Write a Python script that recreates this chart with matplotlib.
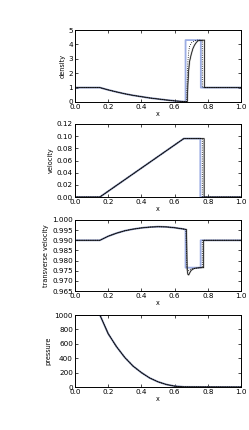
import matplotlib
matplotlib.use('Agg')
import matplotlib.pyplot as plt
import numpy as np

# rarefaction fan, shared by all runs
x_raref = [0.0, 0.15, 0.2, 0.25, 0.3, 0.35, 0.4, 0.45, 0.5, 0.55, 0.6, 0.65]
rho_raref = [1.0, 1.0, 0.84, 0.70, 0.57, 0.46, 0.37, 0.28, 0.21, 0.14, 0.08, 0.03]
vx_raref = [0.0, 0.0, 0.0095, 0.019, 0.0285, 0.038, 0.0475, 0.057, 0.0665, 0.076, 0.0855, 0.095]
vt_raref = [0.990, 0.990, 0.9920, 0.9935, 0.9947, 0.9955, 0.9961, 0.9965, 0.9967, 0.9966, 0.9962, 0.9956]
p_raref = [1000, 1000, 740, 560, 410, 290, 200, 125, 72, 35, 12, 3]

# exact solution
x_rho_exact = [0.655, 0.666, 0.666, 0.758, 0.758, 1.0]
rho_exact = [0.02, 0.02, 4.3, 4.3, 1.0, 1.0]
x_vx_exact = [0.655, 0.755, 0.755, 1.0]
vx_exact = [0.096, 0.096, 0.0, 0.0]
x_vt_exact = [0.666, 0.666, 0.757, 0.757, 1.0]
vt_exact = [0.9953, 0.9765, 0.9765, 0.990, 0.990]

# coarse run (solid black, grey underneath)
x_rho_run1 = [0.655, 0.677, 0.68, 0.685, 0.69, 0.70, 0.71, 0.72, 0.73, 0.74, 0.78, 0.78, 1.0]
rho_run1 = [0.02, 0.03, 1.2, 2.2, 2.8, 3.3, 3.7, 3.95, 4.12, 4.25, 4.3, 1.0, 1.0]
x_vx_run1 = [0.655, 0.778, 0.778, 1.0]
vx_run1 = [0.096, 0.096, 0.0, 0.0]
x_vt_run1 = [0.672, 0.676, 0.68, 0.685, 0.69, 0.70, 0.72, 0.75, 0.775, 0.775, 1.0]
vt_run1 = [0.9953, 0.9752, 0.9732, 0.9729, 0.9738, 0.9752, 0.9762, 0.9765, 0.9765, 0.990, 0.990]

# finer run (dotted)
x_rho_run2 = [0.655, 0.672, 0.676, 0.68, 0.685, 0.69, 0.70, 0.72, 0.74, 0.767, 0.767, 1.0]
rho_run2 = [0.02, 0.02, 1.5, 2.8, 3.5, 3.85, 4.1, 4.25, 4.3, 4.3, 1.0, 1.0]
x_vx_run2 = [0.655, 0.767, 0.767, 1.0]
vx_run2 = [0.096, 0.096, 0.0, 0.0]
x_vt_run2 = [0.668, 0.674, 0.68, 0.685, 0.69, 0.70, 0.767, 0.767, 1.0]
vt_run2 = [0.9953, 0.9762, 0.9752, 0.9750, 0.9754, 0.9760, 0.9765, 0.990, 0.990]

x_p_tail = [0.655, 1.0]
p_tail = [2, 0]

plt.rcParams['font.size'] = 4.7
plt.rcParams['font.family'] = 'DejaVu Sans'

fig = plt.figure(figsize=(2.49, 4.30), dpi=100)
left, width = 75 / 249, 166 / 249
boxes = [(30, 102), (124, 197), (220, 291), (315, 387)]
axes = [fig.add_axes([left, 1 - b / 430, width, (b - t) / 430]) for t, b in boxes]

def draw(ax, xe, ye, x1, y1, x2, y2):
    ax.plot(xe, ye, color='#3a5cc8', lw=1.3, alpha=0.5, zorder=2)
    ax.plot(x1, y1, color='grey', lw=1.3, alpha=0.45, zorder=2)
    ax.plot(x1, y1, color='k', lw=0.5, zorder=3)
    ax.plot(x2, y2, color='k', lw=0.6, ls=':', zorder=3)

draw(axes[0], x_raref + x_rho_exact, rho_raref + rho_exact,
     x_raref + x_rho_run1, rho_raref + rho_run1,
     x_raref + x_rho_run2, rho_raref + rho_run2)
draw(axes[1], x_raref + x_vx_exact, vx_raref + vx_exact,
     x_raref + x_vx_run1, vx_raref + vx_run1,
     x_raref + x_vx_run2, vx_raref + vx_run2)
draw(axes[2], x_raref + x_vt_exact, vt_raref + vt_exact,
     x_raref + x_vt_run1, vt_raref + vt_run1,
     x_raref + x_vt_run2, vt_raref + vt_run2)
# pressure: the runs sit on top of the exact curve
draw(axes[3], x_raref + x_p_tail, p_raref + p_tail,
     x_raref + x_p_tail, p_raref + p_tail,
     x_raref + x_p_tail, p_raref + p_tail)

ylabels = ['density', 'velocity', 'transverse velocity', 'pressure']
ylims = [(0, 5), (0, 0.12), (0.965, 1.0), (0, 1000)]
yticks = [np.arange(0, 6, 1), np.arange(0, 0.1201, 0.02),
          np.arange(0.965, 1.0001, 0.005), np.arange(0, 1001, 200)]
yfmts = ['%d', '%.2f', '%.3f', '%d']

for ax, lab, lim, tk, fmt in zip(axes, ylabels, ylims, yticks, yfmts):
    ax.set_xlim(0, 1)
    ax.set_ylim(*lim)
    ax.set_xticks(np.arange(0, 1.01, 0.2))
    ax.set_xticklabels(['%.1f' % v for v in np.arange(0, 1.01, 0.2)])
    ax.set_yticks(tk)
    ax.set_yticklabels([fmt % v for v in tk])
    ax.set_xlabel('x', labelpad=1)
    ax.set_ylabel(lab, labelpad=2)
    ax.tick_params(direction='in', top=True, right=True, length=2.5, width=0.5,
                   pad=1.5, labelsize=5.2)
    for s in ax.spines.values():
        s.set_linewidth(0.7)

fig.savefig('out.png', dpi=100)
